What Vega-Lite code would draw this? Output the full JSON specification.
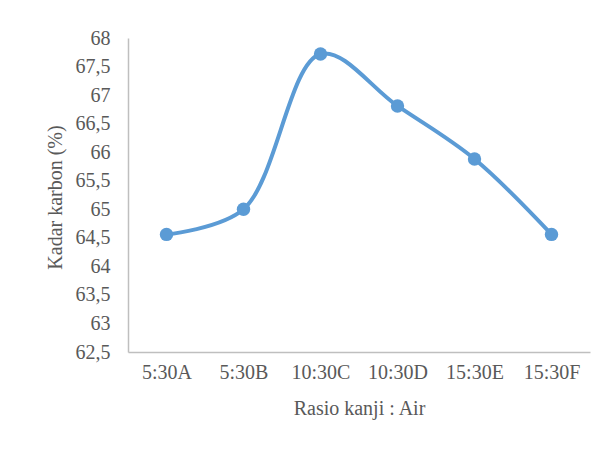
{
  "$schema": "https://vega.github.io/schema/vega-lite/v6.json",
  "width": 462,
  "height": 314,
  "autosize": {"type": "none"},
  "padding": {"left": 128, "top": 38, "right": 25, "bottom": 98},
  "background": "white",
  "config": {
    "view": {"stroke": null},
    "font": "Liberation Serif",
    "axis": {
      "labelFont": "Liberation Serif",
      "titleFont": "Liberation Serif",
      "labelColor": "#595959",
      "titleColor": "#595959",
      "labelFontSize": 20,
      "titleFontSize": 20,
      "titleFontWeight": "normal",
      "domainColor": "#BFBFBF",
      "domainWidth": 1.5,
      "ticks": false,
      "grid": false
    }
  },
  "data": {
    "values": [
      {"rasio": "5:30A", "kadar": 64.56},
      {"rasio": "5:30B", "kadar": 65.0},
      {"rasio": "10:30C", "kadar": 67.72},
      {"rasio": "10:30D", "kadar": 66.81},
      {"rasio": "15:30E", "kadar": 65.88},
      {"rasio": "15:30F", "kadar": 64.56}
    ]
  },
  "encoding": {
    "x": {
      "field": "rasio",
      "type": "nominal",
      "sort": null,
      "scale": {"paddingInner": 0, "paddingOuter": 0},
      "axis": {"title": "Rasio kanji : Air", "labelAngle": 0, "labelPadding": 10, "titleBaseline": "middle", "titleY": 56}
    },
    "y": {
      "field": "kadar",
      "type": "quantitative",
      "scale": {"domain": [62.5, 68], "zero": false, "nice": false},
      "axis": {
        "title": "Kadar karbon (%)",
        "values": [62.5, 63, 63.5, 64, 64.5, 65, 65.5, 66, 66.5, 67, 67.5, 68],
        "labelExpr": "replace(format(datum.value, '~f'), '.', ',')",
        "labelPadding": 18,
        "titleBaseline": "middle",
        "titleX": -73,
        "titleY": 159
      }
    }
  },
  "layer": [
    {
      "mark": {"type": "line", "interpolate": "catmull-rom", "color": "#5B9BD5", "strokeWidth": 4}
    },
    {
      "mark": {"type": "point", "filled": true, "color": "#5B9BD5", "size": 180, "opacity": 1}
    }
  ]
}
